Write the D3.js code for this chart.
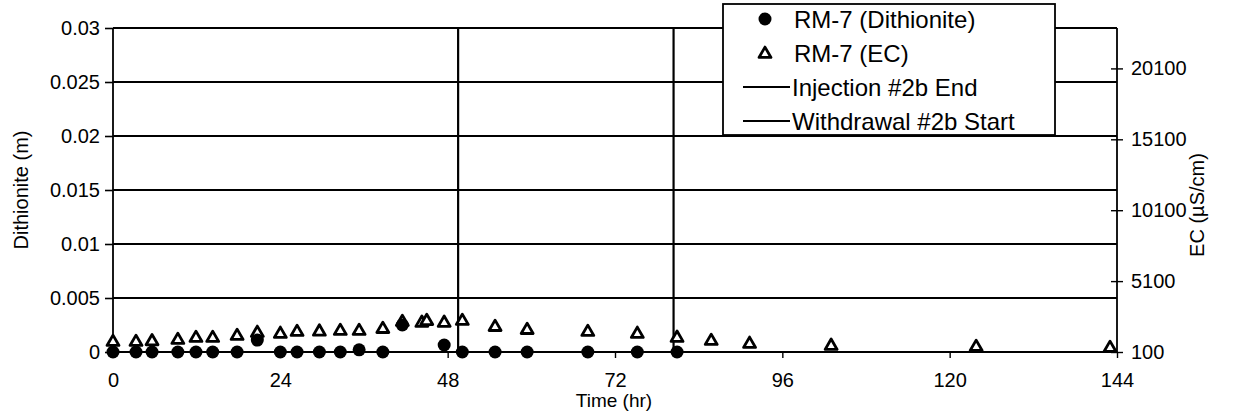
<!DOCTYPE html>
<html>
<head>
<meta charset="utf-8">
<script src="https://cdn.jsdelivr.net/npm/d3@7"></script>
<style>
  html, body { margin: 0; padding: 0; background: #fff; }
  svg { display: block; font-family: "Liberation Sans", Arial, Helvetica, sans-serif; }
</style>
</head>
<body>
<svg id="chart" width="1233" height="415"></svg>
<script>
// ---- data ----
const dithTime  = [0, 3.3, 5.6, 9.3, 11.9, 14.3, 17.8, 20.7, 24.0, 26.4, 29.6, 32.6, 35.3, 38.7, 41.5, 47.5, 50.1, 54.8, 59.4, 68.1, 75.2, 80.9];
const dithValue = [0, 0, 0, 0, 0, 0, 0, 0.0011, 0, 0, 0, 0, 0.0002, 0, 0.0025, 0.00065, 0, 0, 0, 0, 0, 0];

const ecTime  = [0, 3.3, 5.6, 9.3, 11.9, 14.3, 17.8, 20.7, 24.0, 26.4, 29.6, 32.6, 35.3, 38.7, 41.5, 44.3, 45.0, 47.5, 50.1, 54.8, 59.4, 68.1, 75.2, 80.9, 85.8, 91.3, 103.0, 123.8, 143.0];
const ecValue = [805, 805, 850, 946, 1087, 1087, 1228, 1440, 1370, 1510, 1530, 1580, 1580, 1720, 2215, 2150, 2280, 2150, 2285, 1860, 1650, 1510, 1370, 1090, 875, 665, 525, 450, 380];

const eventTimes  = [49.5, 80.4];
const eventLabels = ["Injection #2b End", "Withdrawal #2b Start"];

const xTickValues     = [0, 24, 48, 72, 96, 120, 144];
const leftTickValues  = [0, 0.005, 0.01, 0.015, 0.02, 0.025, 0.03];
const leftTickLabels  = ["0", "0.005", "0.01", "0.015", "0.02", "0.025", "0.03"];
const rightTickValues = [100, 5100, 10100, 15100, 20100];

const seriesLabels = ["RM-7 (Dithionite)", "RM-7 (EC)"];

// ---- layout ----
const svg = d3.select("#chart");
const L = 113, R = 1117, T = 28, B = 352;

const x  = d3.scaleLinear().domain([0, 144]).range([L, R]);
const yL = d3.scaleLinear().domain([0, 0.03]).range([B, T]);
const yR = d3.scaleLinear().domain([100, 22950]).range([B, T]);

// gridlines
svg.append("g").selectAll("line").data(leftTickValues).join("line")
  .attr("x1", L).attr("x2", R)
  .attr("y1", d => yL(d)).attr("y2", d => yL(d))
  .attr("stroke", "#000").attr("stroke-width", 1.8);

// event lines
svg.append("g").selectAll("line").data(eventTimes).join("line")
  .attr("x1", d => x(d)).attr("x2", d => x(d))
  .attr("y1", T).attr("y2", B)
  .attr("stroke", "#000").attr("stroke-width", 2.2);

// left axis
const gL = svg.append("g").attr("transform", `translate(${L},0)`)
  .call(d3.axisLeft(yL).tickValues(leftTickValues)
    .tickFormat((d, i) => leftTickLabels[i]).tickSize(8).tickPadding(5));
gL.select(".domain").attr("stroke-width", 1.8).attr("d", `M-0,${T}V${B}`);
gL.selectAll(".tick line").attr("stroke-width", 1.6);
gL.selectAll("text").attr("font-size", 20).attr("fill", "#000")
  .attr("font-family", "Liberation Sans, Arial, sans-serif");

// bottom axis
const gB = svg.append("g").attr("transform", `translate(0,${B})`)
  .call(d3.axisBottom(x).tickValues(xTickValues).tickFormat(d3.format("d")).tickSize(6).tickPadding(15));
gB.select(".domain").attr("stroke-width", 1.8).attr("d", `M${L},0H${R}`);
gB.selectAll(".tick line").attr("stroke-width", 1.4);
gB.selectAll("text").attr("font-size", 20).attr("fill", "#000")
  .attr("font-family", "Liberation Sans, Arial, sans-serif");

// right axis
const gR = svg.append("g").attr("transform", `translate(${R},0)`)
  .call(d3.axisRight(yR).tickValues(rightTickValues).tickFormat(d3.format("d")).tickSize(6).tickPadding(8));
gR.select(".domain").attr("stroke-width", 1.8).attr("d", `M0,${T}V${B}`);
gR.selectAll(".tick line").attr("x1", -6).attr("stroke-width", 1.4);
gR.selectAll("text").attr("font-size", 20).attr("fill", "#000")
  .attr("font-family", "Liberation Sans, Arial, sans-serif");

// axis titles
svg.append("text").attr("transform", `translate(28,${(T + B) / 2}) rotate(-90)`)
  .attr("text-anchor", "middle").attr("font-size", 20).text("Dithionite (m)");
svg.append("text").attr("transform", `translate(1204,${(T + B) / 2 + 15}) rotate(-90)`)
  .attr("text-anchor", "middle").attr("font-size", 20).text("EC (µS/cm)");
svg.append("text").attr("x", 614).attr("y", 407)
  .attr("text-anchor", "middle").attr("font-size", 19).text("Time (hr)");

// markers
const tri = d3.symbol().type(d3.symbolTriangle).size(62);
const ecData = ecTime.map((t, i) => ({ t, v: ecValue[i] }));
svg.append("g").selectAll("path").data(ecData).join("path")
  .attr("d", tri)
  .attr("transform", d => `translate(${x(d.t)},${yR(d.v)})`)
  .attr("fill", "#fff").attr("stroke", "#000").attr("stroke-width", 2.8)
  .attr("stroke-linejoin", "round");

const dData = dithTime.map((t, i) => ({ t, v: dithValue[i] }));
svg.append("g").selectAll("circle").data(dData).join("circle")
  .attr("cx", d => x(d.t)).attr("cy", d => yL(d.v)).attr("r", 6.5)
  .attr("fill", "#000");

// legend
const lg = svg.append("g");
lg.append("rect").attr("x", 723).attr("y", 4).attr("width", 332).attr("height", 131)
  .attr("fill", "#fff").attr("stroke", "#000").attr("stroke-width", 1.8);
const rowsY = [19, 53, 87, 121];
lg.append("circle").attr("cx", 765).attr("cy", rowsY[0]).attr("r", 6.5).attr("fill", "#000");
lg.append("path").attr("d", tri).attr("transform", `translate(765,${rowsY[1] + 1})`)
  .attr("fill", "#fff").attr("stroke", "#000").attr("stroke-width", 2.8)
  .attr("stroke-linejoin", "round");
lg.selectAll("line.ev").data(eventLabels).join("line")
  .attr("x1", 743).attr("x2", 790)
  .attr("y1", (d, i) => rowsY[2 + i]).attr("y2", (d, i) => rowsY[2 + i])
  .attr("stroke", "#000").attr("stroke-width", 1.8);
const legendTexts = seriesLabels.concat(eventLabels);
lg.selectAll("text").data(legendTexts).join("text")
  .attr("x", (d, i) => i < 2 ? 794 : 792)
  .attr("y", (d, i) => rowsY[i] + 8.5)
  .attr("font-size", 24).text(d => d);
</script>
</body>
</html>
